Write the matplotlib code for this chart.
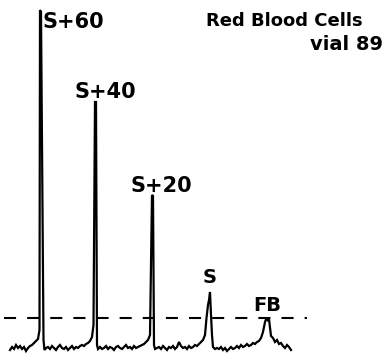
import matplotlib
matplotlib.use("Agg")
import matplotlib.pyplot as plt

# trace (channel, counts); baseline ~10, peaks up to ~347
chan = [10, 12, 14, 16, 18, 20, 22, 24, 26, 28, 30, 32, 34, 36, 38,
        39.5, 40, 41, 43.5, 44.5,
        46, 48, 50, 52, 54, 56, 58, 60, 62, 64, 66, 68, 70, 72, 74, 76, 78, 80,
        82, 84, 86, 88, 90, 92,
        93.5, 95, 96, 97, 98,
        100, 102, 104, 106, 108, 110, 112, 114, 116, 118, 120, 122, 124, 126,
        128, 130, 132, 134, 136, 138, 140, 142, 144, 146, 148,
        150, 152, 153, 154, 155,
        157, 159, 161, 163, 165, 167, 169, 171, 173, 175, 177, 179, 181, 183,
        185, 187, 189, 191, 193, 195, 197, 199, 201, 203,
        205, 206.5, 208, 209, 210, 211, 212, 213,
        215, 217, 219, 221, 223, 225, 227, 229, 231, 233, 235, 237, 239, 241,
        243, 245, 247, 249, 251, 253, 255, 257, 259, 261,
        263, 265, 266.5, 268, 269, 270, 271,
        273, 275, 277, 279, 281, 283, 285, 287, 289, 291]
counts = [7, 10, 8, 12, 9, 11, 8, 10, 6, 9, 11, 12, 14, 16, 18,
          27, 347, 345, 17, 7,
          9, 10, 8, 11, 9, 7, 10, 12, 9, 8, 10, 7, 9, 11, 8, 10, 9, 11,
          12, 11, 13, 14, 16, 20,
          32, 255, 255, 12, 8,
          10, 8, 9, 11, 8, 10, 9, 7, 10, 11, 9, 8, 10, 12,
          9, 10, 8, 11, 9, 10, 11, 12, 13, 15, 17,
          22, 162, 161, 12, 8,
          9, 10, 8, 11, 9, 7, 10, 9, 11, 8, 10, 15, 11, 9,
          10, 8, 11, 9, 10, 12, 11, 13, 15, 17,
          22, 39, 52, 57, 65, 42, 22, 10,
          8, 9, 8, 10, 7, 9, 6, 8, 10, 8, 9, 11, 9, 12,
          10, 11, 13, 11, 12, 14, 13, 15, 16, 19,
          25, 35, 39, 36, 38, 29, 21,
          19, 15, 17, 13, 14, 11, 9, 12, 10, 7]

threshold = 39  # dashed level

labels = ["S+60", "S+40", "S+20", "S", "FB"]
label_x = [43, 75, 131, 203, 253]
label_y = [329, 259, 165, 74, 46]
label_size = [15, 15, 15, 14, 14]

fig = plt.figure(figsize=(3.86, 3.57), dpi=100)
ax = fig.add_axes([0, 0, 1, 1])
ax.set_xlim(0, 386)
ax.set_ylim(0, 357)
ax.axis("off")

ax.plot(chan, counts, color="black", lw=1.6, solid_joinstyle="miter")
ax.hlines(threshold, 4, 307, colors="black", lw=1.5, linestyles=(0, (5.8, 5.3)))

for t, x, y, s in zip(labels, label_x, label_y, label_size):
    ax.text(x, y, t, fontsize=s, fontweight="bold", va="baseline", ha="left")

ax.text(363, 331, "Red Blood Cells", fontsize=13, fontweight="bold",
        va="baseline", ha="right")
ax.text(383, 307, "vial 89", fontsize=14, fontweight="bold",
        va="baseline", ha="right")

fig.savefig("out.png", dpi=100)
